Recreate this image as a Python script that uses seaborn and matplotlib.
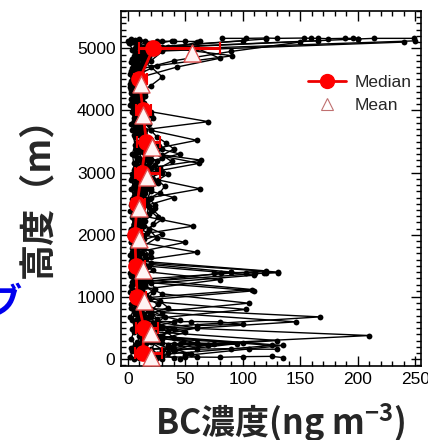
import matplotlib
matplotlib.use("Agg")
import matplotlib.pyplot as plt
import seaborn as sns
import pandas as pd
from matplotlib.lines import Line2D
from matplotlib.ticker import MultipleLocator

# ---------------- data ----------------
alt_a = [20, 150, 300, 450, 600, 750, 900, 1050, 1200, 1350, 1500, 1650, 1800, 1950, 2100, 2250, 2400, 2550,
         2700, 2850, 3000, 3150, 3300, 3450, 3600, 3750, 3900, 4050, 4200, 4350, 4500, 4650, 4800, 4950, 5100]
alt_b = [60, 220, 380, 520, 680, 820, 980, 1120, 1280, 1420, 1580, 1720, 1880, 2020, 2180, 2320, 2480, 2620,
         2780, 2920, 3080, 3220, 3380, 3520, 3680, 3820, 3980, 4120, 4280, 4420, 4580, 4720, 4880, 5020, 5150]
alt_c = [100, 260, 340, 500, 640, 800, 940, 1100, 1240, 1400, 1540, 1700, 1840, 2000, 2140, 2300, 2440, 2600,
         2740, 2900, 3040, 3200, 3340, 3500, 3640, 3800, 3940, 4100, 4240, 4400, 4540, 4700, 4840, 5000, 5120]
alt_d = [0, 80, 180, 280, 380, 480, 580, 680, 780, 880, 980, 1080, 1180, 1280, 1380, 1480, 1580, 1680, 1780,
         1880, 1980, 2080, 2180, 2280, 2380, 2480, 2580, 2680, 2780, 2880, 2980, 3080, 3180, 3280, 3380, 3480,
         3580, 3680, 3780, 3880, 3980, 4080, 4180, 4280, 4380, 4480, 4580, 4680, 4780, 4880, 4980, 5080]
alt_e = [40, 130, 230, 330, 430, 530, 630, 730, 830, 930, 1030, 1130, 1230, 1330, 1430, 1530, 1630, 1730, 1830,
         1930, 2030, 2130, 2230, 2330, 2430, 2530, 2630, 2730, 2830, 2930, 3030, 3130, 3230, 3330, 3430, 3530,
         3630, 3730, 3830, 3930, 4030, 4130, 4230, 4330, 4430, 4530, 4630, 4730, 4830, 4930, 5030, 5130]

bc_a1 = [25, 30, 18, 20, 15, 12, 10, 8, 9, 110, 15, 10, 8, 7, 6, 8, 9, 12, 10, 14, 12, 18, 15, 20, 14, 12, 10, 13, 9, 8, 10, 12, 20, 30, 60]
bc_a2 = [40, 12, 22, 35, 10, 8, 6, 5, 4, 6, 5, 4, 5, 4, 3, 5, 6, 7, 8, 10, 30, 12, 45, 14, 10, 8, 7, 6, 5, 4, 6, 8, 40, 90, 150]
bc_a3 = [10, 8, 130, 15, 12, 20, 105, 30, 12, 10, 8, 20, 12, 25, 18, 30, 22, 15, 12, 8, 6, 5, 4, 6, 5, 7, 6, 5, 4, 3, 5, 6, 8, 12, 5]
bc_a4 = [15, 20, 25, 18, 146, 30, 12, 10, 15, 12, 18, 10, 14, 12, 10, 9, 12, 16, 20, 24, 18, 62, 20, 16, 12, 10, 9, 8, 7, 6, 8, 10, 15, 20, 240]
bc_b1 = [20, 125, 15, 12, 18, 10, 9, 8, 7, 120, 8, 60, 10, 9, 8, 12, 15, 10, 8, 7, 12, 16, 18, 12, 15, 10, 8, 9, 7, 6, 8, 12, 18, 35, 200]
bc_b2 = [30, 35, 210, 25, 20, 14, 10, 12, 80, 10, 9, 8, 50, 6, 7, 8, 10, 12, 14, 16, 20, 18, 22, 60, 20, 14, 10, 8, 6, 5, 7, 10, 14, 22, 120]
bc_b3 = [12, 15, 10, 8, 9, 6, 5, 4, 5, 6, 5, 4, 3, 4, 5, 6, 7, 8, 9, 10, 14, 15, 14, 12, 10, 70, 20, 14, 12, 10, 9, 25, 91, 30, 10]
bc_b4 = [50, 135, 20, 30, 167, 12, 10, 108, 14, 12, 10, 9, 8, 30, 10, 12, 8, 6, 5, 4, 6, 8, 10, 12, 8, 6, 5, 4, 3, 2, 4, 6, 10, 14, 3]
bc_c1 = [18, 16, 14, 12, 10, 9, 8, 110, 12, 90, 10, 8, 7, 6, 8, 10, 12, 14, 16, 18, 14, 12, 10, 8, 7, 6, 5, 4, 6, 8, 12, 43, 80, 60, 250]
bc_c2 = [22, 100, 20, 18, 15, 103, 12, 10, 8, 131, 20, 12, 10, 8, 57, 14, 12, 10, 8, 6, 5, 64, 8, 10, 12, 14, 16, 12, 10, 8, 6, 8, 12, 18, 165]
bc_c3 = [8, 10, 12, 60, 10, 8, 6, 5, 4, 3, 4, 5, 6, 7, 8, 9, 10, 40, 12, 10, 15, 20, 25, 18, 14, 12, 10, 8, 6, 20, 30, 20, 10, 6, 38]
bc_c4 = [35, 60, 40, 30, 25, 20, 15, 12, 10, 9, 8, 7, 10, 12, 14, 16, 18, 20, 63, 22, 25, 20, 16, 14, 12, 10, 9, 8, 7, 6, 5, 6, 8, 10, 100]
bc_d1 = [30, 25, 35, 20, 28, 15, 22, 12, 18, 10, 14, 9, 12, 8, 10, 7, 9, 6, 8, 5, 7, 9, 11, 14, 10, 8, 12, 15, 18, 22,
         16, 20, 25, 18, 30, 22, 15, 12, 10, 14, 11, 9, 8, 10, 7, 6, 8, 5, 7, 10, 15, 2]
bc_d2 = [5, 10, 3, 8, 12, 4, 6, 2, 5, 3, 4, 2, 3, 5, 2, 4, 3, 2, 4, 3, 2, 3, 5, 4, 2, 3, 4, 6, 5, 3,
         4, 6, 8, 5, 7, 9, 6, 4, 3, 5, 4, 2, 3, 4, 2, 3, 2, 4, 3, 5, 4, 1]
bc_d3 = [45, 55, 38, 48, 30, 40, 25, 32, 20, 26, 18, 22, 15, 19, 14, 17, 12, 15, 13, 11, 14, 18, 22, 26, 20, 24, 18, 28, 32, 26,
         35, 28, 38, 30, 40, 33, 25, 20, 18, 22, 16, 14, 12, 15, 10, 12, 9, 11, 13, 18, 25, 8]
bc_e1 = [12, 18, 8, 15, 10, 20, 7, 14, 9, 12, 6, 10, 8, 5, 7, 9, 6, 8, 11, 7, 9, 12, 15, 11, 8, 10, 13, 9, 12, 15,
         11, 14, 18, 13, 16, 20, 14, 10, 8, 12, 9, 7, 10, 8, 6, 9, 7, 5, 8, 12, 20, 6]
bc_e2 = [60, 40, 70, 30, 50, 25, 45, 20, 35, 28, 16, 24, 20, 13, 22, 11, 16, 20, 9, 14, 17, 8, 12, 18, 24, 15, 9, 20, 26, 19,
         13, 24, 30, 22, 27, 19, 14, 11, 16, 20, 12, 10, 15, 9, 8, 11, 7, 9, 6, 14, 25, 10]
bc_e3 = [2, 4, 6, 3, 5, 7, 4, 6, 3, 5, 8, 4, 6, 3, 5, 4, 6, 7, 5, 4, 3, 5, 7, 9, 6, 4, 5, 3, 7, 9,
         6, 8, 10, 7, 9, 12, 8, 6, 5, 7, 6, 4, 5, 3, 4, 6, 3, 5, 4, 7, 9, 3]

# level flight legs
leg1_bc = [0, 5, 10, 15, 25, 30, 40, 50, 63]
leg1_alt = [5110, 5110, 5115, 5110, 5110, 5115, 5110, 5110, 5110]
leg2_bc = [82, 103, 120, 130, 153, 159, 165, 174, 189, 196, 200, 214, 249]
leg2_alt = [5160, 5160, 5165, 5160, 5165, 5160, 5160, 5155, 5160, 5160, 5150, 5160, 5160]
leg3_bc = [75, 81, 90, 103, 111, 118, 120, 131]
leg3_alt = [1390, 1390, 1395, 1390, 1390, 1380, 1385, 1390]
leg4_bc = [20, 40, 60, 90, 105, 130]
leg4_alt = [160, 165, 160, 170, 160, 160]
leg5_bc = [15, 50, 80, 100, 125, 135]
leg5_alt = [30, 35, 30, 40, 45, 25]
leg6_bc = [10, 30, 45, 60, 75, 95, 70, 40]
leg6_alt = [250, 255, 250, 260, 250, 245, 230, 240]
leg7_bc = [15, 25, 40, 55, 80, 100, 60]
leg7_alt = [600, 610, 600, 605, 600, 560, 540]

# statistics
med_alt = [100, 500, 1000, 1500, 2000, 2500, 3000, 3500, 4000, 4500, 5000]
med_bc = [13, 14, 8, 7, 6, 8, 12, 16, 13, 10, 22]
med_lo = [6, 7, 4, 4, 3, 4, 6, 8, 7, 5, 10]
med_hi = [30, 26, 16, 15, 12, 15, 28, 28, 20, 17, 80]
mean_alt = [40, 420, 940, 1430, 1930, 2430, 2930, 3420, 3920, 4420, 4920]
mean_bc = [20, 20, 14, 13, 9.5, 9.5, 16.5, 21, 13, 11, 56]

# ---------------- build long table ----------------
profiles = [
    ("a1", alt_a, bc_a1), ("a2", alt_a, bc_a2), ("a3", alt_a, bc_a3), ("a4", alt_a, bc_a4),
    ("b1", alt_b, bc_b1), ("b2", alt_b, bc_b2), ("b3", alt_b, bc_b3), ("b4", alt_b, bc_b4),
    ("c1", alt_c, bc_c1), ("c2", alt_c, bc_c2), ("c3", alt_c, bc_c3), ("c4", alt_c, bc_c4),
    ("d1", alt_d, bc_d1), ("d2", alt_d, bc_d2), ("d3", alt_d, bc_d3),
    ("e1", alt_e, bc_e1), ("e2", alt_e, bc_e2), ("e3", alt_e, bc_e3),
    ("l1", leg1_alt, leg1_bc), ("l2", leg2_alt, leg2_bc), ("l3", leg3_alt, leg3_bc),
    ("l4", leg4_alt, leg4_bc), ("l5", leg5_alt, leg5_bc), ("l6", leg6_alt, leg6_bc),
    ("l7", leg7_alt, leg7_bc),
]
rows = []
for name, alts, bcs in profiles:
    for i, (al, b) in enumerate(zip(alts, bcs)):
        rows.append({"flight": name, "order": i, "alt": al, "bc": b})
df = pd.DataFrame(rows)

# ---------------- plot ----------------
sns.set_theme(style="ticks")
plt.rcParams["font.family"] = ["Liberation Sans", "DejaVu Sans"]
plt.rcParams["mathtext.fontset"] = "custom"
plt.rcParams["mathtext.bf"] = "Noto Sans CJK JP:bold"
plt.rcParams["mathtext.rm"] = "Noto Sans CJK JP"

fig = plt.figure(figsize=(4.28, 4.40), dpi=100)
ax = fig.add_axes([0.2827, 0.1682, 0.7009, 0.8068])

sns.lineplot(data=df, x="bc", y="alt", units="flight", estimator=None, sort=False,
             color="black", lw=1.0, marker="o", markersize=4.2, markeredgewidth=0,
             ax=ax, legend=False, zorder=2)

xerr = [[m - l for m, l in zip(med_bc, med_lo)], [h - m for m, h in zip(med_bc, med_hi)]]
ax.errorbar(med_bc, med_alt, xerr=xerr, color="#ee0000", lw=2.0, elinewidth=2.2, capsize=4,
            capthick=1.5, marker="o", markersize=11, mfc="#ff0000", mec="#ff0000", zorder=5)
sns.scatterplot(x=mean_bc, y=mean_alt, marker="^", s=150, color="#fff4f4", edgecolor="#e05050",
                linewidth=1.0, ax=ax, zorder=6, legend=False)

ax.set_xlim(-6, 255)
ax.set_ylim(-110, 5600)
ax.xaxis.set_major_locator(MultipleLocator(50))
ax.xaxis.set_minor_locator(MultipleLocator(10))
ax.yaxis.set_major_locator(MultipleLocator(1000))
ax.yaxis.set_minor_locator(MultipleLocator(100))
ax.tick_params(which="both", direction="in", top=True, right=True, width=1.0, colors="black")
ax.tick_params(which="major", length=7, labelsize=12.5, pad=4)
ax.tick_params(which="minor", length=3.5)
for s in ax.spines.values():
    s.set_linewidth(1.2)
    s.set_color("black")

ax.set_xlabel("BC濃度(ng m$^{\\mathbf{-3}}$)", fontsize=24.5, fontweight="bold",
              family=["Noto Sans CJK JP", "DejaVu Sans"], va="top")
ax.xaxis.set_label_coords(0.53, -0.1)
ax.set_ylabel("高度（m）", fontsize=26, fontweight="bold",
              family=["Noto Sans CJK JP", "DejaVu Sans"], labelpad=15)

handles = [
    Line2D([], [], color="#ee0000", lw=2.0, marker="o", markersize=10, mfc="#ff0000", mec="#ff0000"),
    Line2D([], [], color="none", marker="^", markersize=9, mfc="white", mec="#c07070", mew=0.8),
]
ax.legend(handles, ["Median", "Mean"], loc="upper right", bbox_to_anchor=(0.97, 0.82),
          borderaxespad=0, borderpad=0, frameon=False, fontsize=12.5, handlelength=2.2,
          handletextpad=0.5, labelspacing=0.45)

fig.text(-0.035, 0.31, "ブ", color="#0000ee", fontsize=26, fontweight="bold",
         family=["Noto Sans CJK JP", "DejaVu Sans"], ha="left", va="center", rotation=0)

fig.savefig("out.png", dpi=100)
